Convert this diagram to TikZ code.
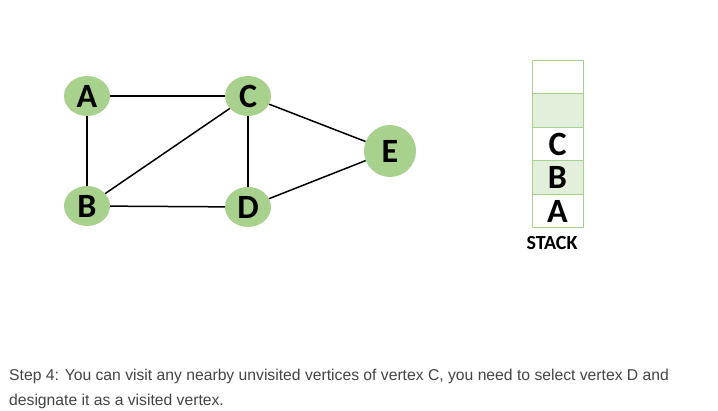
\documentclass[tikz,border=0pt]{standalone}
\usepackage{fontspec}
\setmainfont{Carlito}
\newfontfamily\bodyfont{Liberation Sans}
\usetikzlibrary{shapes.geometric}
\definecolor{nodegreen}{HTML}{A9D18E}
\definecolor{cellgreen}{HTML}{E2EFDA}
\definecolor{cellborder}{HTML}{A9D18E}
\definecolor{textgrey}{HTML}{444444}
\tikzset{
  vertex/.style={ellipse, fill=nodegreen, minimum width=46pt, minimum height=40pt, inner sep=0pt, font=\fontsize{34}{34}\selectfont\bfseries},
  edge/.style={draw=black, line width=1.5pt},
  cell/.style={draw=cellborder, line width=0.8pt, minimum width=51pt, minimum height=33.6pt, inner sep=0pt, font=\fontsize{34}{34}\selectfont\bfseries},
}
\begin{document}
\begin{tikzpicture}[x=1pt,y=-1pt]
\useasboundingbox (0,0) rectangle (718,411);
\node[vertex] (A) at (87,96) {A};
\node[vertex] (C) at (248,96) {C};
\node[vertex] (B) at (87,206) {B};
\node[vertex] (D) at (248,207) {D};
\node[vertex, minimum width=52pt, minimum height=52pt] (E) at (390,151) {E};
\draw[edge] (A) -- (C);
\draw[edge] (A) -- (B);
\draw[edge] (B) -- (C);
\draw[edge] (B) -- (D);
\draw[edge] (C) -- (D);
\draw[edge] (C) -- (E);
\draw[edge] (D) -- (E);
\node[cell] (s5) at (557.5,77) {};
\node[cell, fill=cellgreen] (s4) at (557.5,110.5) {};
\node[cell] (s3) at (557.5,144) {C};
\node[cell, fill=cellgreen] (s2) at (557.5,177.5) {B};
\node[cell] (s1) at (557.5,211) {A};
\node[font=\fontsize{20}{20}\selectfont\bfseries, anchor=base] (st) at (552,250) {STACK};
\node[anchor=base west, inner sep=0pt, text=textgrey, font=\bodyfont\fontsize{15.7}{15.7}\selectfont] (t1) at (9,381) {Step 4: You can visit any nearby unvisited vertices of vertex C, you need to select vertex D and};
\node[anchor=base west, inner sep=0pt, text=textgrey, font=\bodyfont\fontsize{15.7}{15.7}\selectfont] (t2) at (9,406) {designate it as a visited vertex.};
\end{tikzpicture}
\end{document}
